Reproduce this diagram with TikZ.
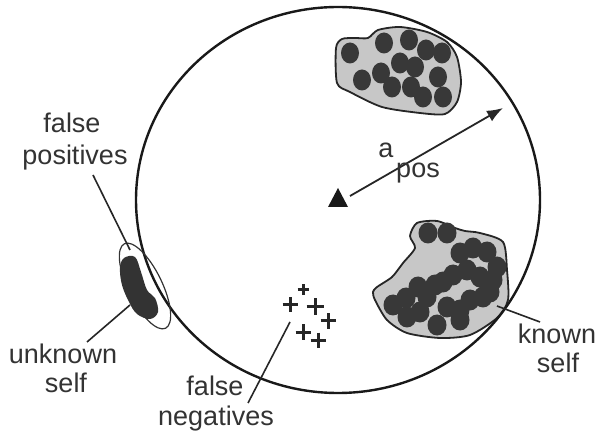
\documentclass[tikz,border=0pt]{standalone}
\usepackage{fontspec}
\setmainfont{Liberation Sans}
\usetikzlibrary{arrows.meta}
\begin{document}
\begin{tikzpicture}[x=1pt,y=-1pt,
  lbl/.style={font=\fontsize{27}{32}\selectfont, text=black!80, inner sep=0pt, anchor=base},
  ptr/.style={draw=black!85, line width=1.6pt},
  dotc/.style={fill=black!78},
  blob/.style={draw=black!85, line width=1.8pt, fill=black!22},
  cross/.style={draw=black!85, line width=3pt},
]
\useasboundingbox (0,0) rectangle (597,438);
\fill[white] (0,0) rectangle (597,438);

% top blob (known self, upper)
\path[blob] plot[smooth cycle, tension=0.45] coordinates {
  (336,48) (342,39) (355,38) (368,38) (378,30) (400,27) (427,32) (447,42)
  (457,57) (461,82) (457,102) (445,114) (420,113) (382,107) (350,92) (337,83)};
\foreach \p in {(350,53),(384,43),(409,40),(426,50),(442,53),(400,63),(415,67),
  (381,73),(362,80),(392,87),(411,87),(423,97),(443,97),(438,77)}
  \fill[dotc] \p ellipse [x radius=9pt, y radius=10.5pt];

% lower blob (known self)
\path[blob] plot[smooth cycle, tension=0.45] coordinates {
  (417,223) (437,221) (455,228) (465,231) (480,233) (503,242) (507,270)
  (508,300) (497,318) (470,335) (440,338) (407,333) (387,320) (375,300)
  (373,292) (377,287) (392,277) (403,263) (415,248) (410,236)};
\foreach \p in {(428,233),(447,233),(460,253),(473,248),(487,252),(497,267),
  (493,280),(480,277),(467,270),(453,275),(443,282),(435,285),(393,305),
  (407,317),(420,312),(427,297),(437,325),(447,307),(460,310),(470,300),
  (483,297),(490,292),(460,320),(418,287),(406,298)}
  \fill[dotc] \p ellipse [x radius=9.5pt, y radius=10.5pt];

% self space
\draw[black!90, line width=2.4pt] (338,200) ellipse [x radius=202pt, y radius=193pt];

% unknown self
\fill[black!80] plot[smooth cycle, tension=0.6] coordinates {
  (124,258) (135,257) (141,272) (147,290) (155,298) (158,312) (150,319)
  (137,314) (129,302) (122,285) (120,268)};
\draw[black!80, line width=1.2pt, shift={(145,286)}, rotate=-64]
  (0,0) ellipse [x radius=47pt, y radius=17pt];

% false negatives crosses
\foreach \x/\y/\s in {303/290/5.5, 290/305/7.5, 315/307/8.5, 328/321/7.5, 303/332/7.5, 318/340/7.5}
  \draw[cross] (\x-\s,\y) -- (\x+\s,\y) (\x,\y-\s) -- (\x,\y+\s);

% detector
\fill[black!90] (338,188) -- (328,207) -- (348,207) -- cycle;
\coordinate (det) at (350,196);
\coordinate (tip) at (503,108);
\draw[black!85, line width=1.8pt, -{Latex[length=16pt,width=12pt]}] (det) -- (tip);
\node[lbl] (a) at (386,158) {a};
\node[lbl] (pos) at (418,178) {pos};

% labels
\node[lbl] (fp1) at (72,133) {false};
\node[lbl] (fp2) at (75,165) {positives};
\node[lbl] (us1) at (63,363) {unknown};
\node[lbl] (us2) at (66,392) {self};
\node[lbl] (fn1) at (215,395) {false};
\node[lbl] (fn2) at (216,425) {negatives};
\node[lbl] (ks1) at (557,343) {known};
\node[lbl] (ks2) at (558,372) {self};

% pointers
\coordinate (fpA) at (93,175); \coordinate (fpB) at (130,250);
\coordinate (usA) at (87,342); \coordinate (usB) at (130,305);
\coordinate (fnA) at (248,403); \coordinate (fnB) at (290,322);
\coordinate (ksA) at (540,322); \coordinate (ksB) at (497,306);
\draw[ptr] (fpA) -- (fpB);
\draw[ptr] (usA) -- (usB);
\draw[ptr] (fnA) -- (fnB);
\draw[ptr] (ksA) -- (ksB);
\end{tikzpicture}
\end{document}
